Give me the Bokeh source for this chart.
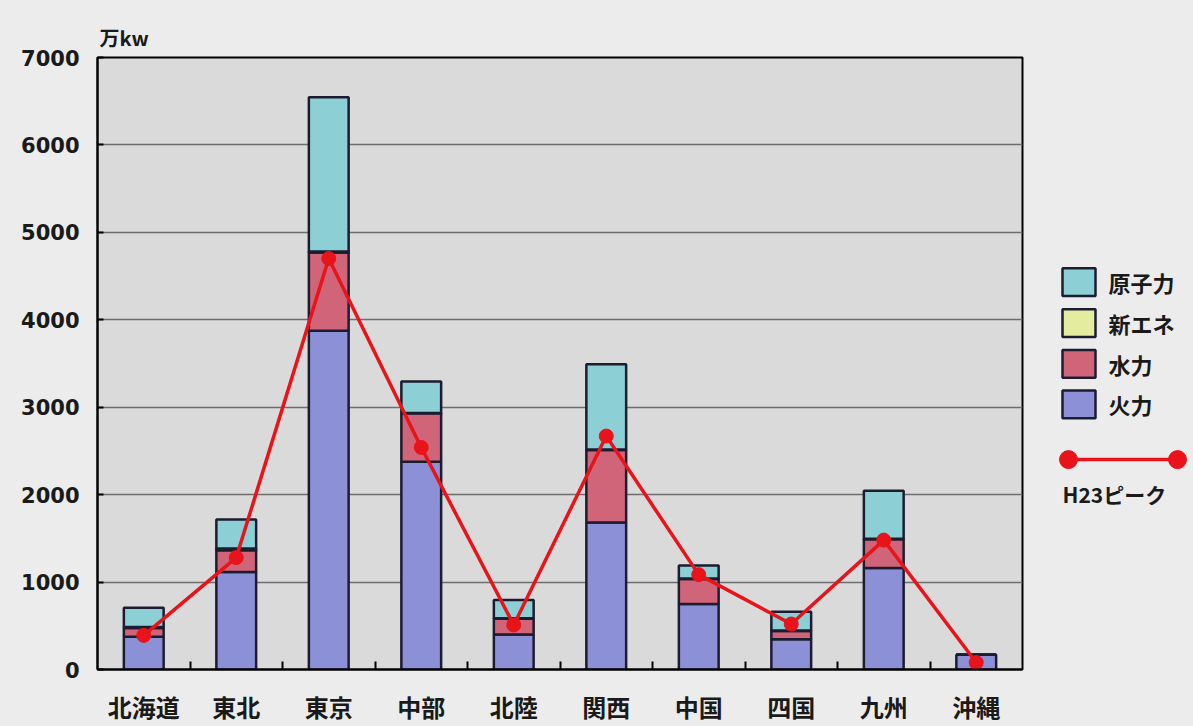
from bokeh.plotting import figure
from bokeh.layouts import row
from bokeh.models import ColumnDataSource, FixedTicker, Range1d
from bokeh.core.properties import value
from bokeh.embed import file_html
from bokeh.resources import INLINE

# ---- data (万kW) ----
categories = ["北海道", "東北", "東京", "中部", "北陸", "関西", "中国", "四国", "九州", "沖縄"]
fire = [375, 1115, 3875, 2375, 400, 1680, 750, 345, 1160, 170]      # 火力
hydro = [100, 250, 895, 555, 180, 830, 285, 95, 330, 0]              # 水力
new_energy = [10, 20, 10, 5, 5, 5, 5, 5, 5, 0]                        # 新エネ
nuclear = [220, 330, 1765, 360, 210, 975, 150, 215, 550, 0]          # 原子力
peak = [390, 1280, 4700, 2540, 510, 2670, 1085, 520, 1480, 80]      # H23ピーク
y_ticks = [0, 1000, 2000, 3000, 4000, 5000, 6000, 7000]
series_labels = ["原子力", "新エネ", "水力", "火力"]
line_label = "H23ピーク"
unit_label = "万kw"

# ---- styles ----
C_FIRE = "#8c90d6"
C_HYDRO = "#d0657a"
C_NEW = "#e4eca0"
C_NUC = "#8ccfd4"
C_EDGE = "#1c1c30"
C_RED = "#e8141a"
PAGE_BG = "#ececec"
PLOT_BG = "#dadada"
JP = "Noto Sans CJK JP"

xs = [i + 0.5 for i in range(len(categories))]
src = ColumnDataSource(dict(x=xs, fire=fire, hydro=hydro, new=new_energy,
                            nuclear=nuclear, peak=peak))

p = figure(width=1040, height=726, x_range=Range1d(0, len(categories)),
           y_range=Range1d(0, 7000), output_backend="svg", toolbar_location=None,
           min_border_left=97, min_border_right=18, min_border_top=57,
           min_border_bottom=53)
p.background_fill_color = PLOT_BG
p.border_fill_color = PAGE_BG
p.outline_line_color = "black"
p.outline_line_width = 2

p.vbar_stack(["fire", "hydro", "new", "nuclear"], x="x", width=0.43,
             color=[C_FIRE, C_HYDRO, C_NEW, C_NUC], line_color=C_EDGE,
             line_width=2.5, source=src)
p.line("x", "peak", source=src, line_color=C_RED, line_width=3.5)
p.scatter("x", "peak", source=src, size=14, fill_color=C_RED, line_color=C_RED)

# grids
p.xgrid.visible = False
p.ygrid.ticker = FixedTicker(ticks=y_ticks)
p.ygrid.grid_line_color = "#6e6e6e"
p.ygrid.grid_line_width = 1.5

# y axis
ya = p.yaxis[0]
ya.ticker = FixedTicker(ticks=y_ticks)
ya.major_tick_in = 6
ya.major_tick_out = 0
ya.minor_tick_line_color = None
ya.axis_line_color = "black"
ya.axis_line_width = 2
ya.major_tick_line_width = 2
ya.major_label_text_font = "DejaVu Sans"
ya.major_label_text_font_style = "bold"
ya.major_label_text_font_size = "21px"
ya.major_label_text_color = "#1a1a1a"
ya.major_label_standoff = 18

# x axis
xa = p.xaxis[0]
xa.ticker = FixedTicker(ticks=xs, minor_ticks=list(range(1, len(categories))))
xa.major_label_overrides = {x: c for x, c in zip(xs, categories)}
xa.major_tick_line_color = None
xa.minor_tick_in = 8
xa.minor_tick_out = 0
xa.minor_tick_line_color = "black"
xa.minor_tick_line_width = 2
xa.axis_line_color = "black"
xa.axis_line_width = 2
xa.major_label_text_font = JP
xa.major_label_text_font_style = "bold"
xa.major_label_text_font_size = "24px"
xa.major_label_text_color = "#1a1a1a"
xa.major_label_standoff = 13

# unit title
p.title.text = unit_label
p.title.align = "left"
p.title.text_font = JP
p.title.text_font_style = "bold"
p.title.text_font_size = "20px"
p.title.text_color = "#1a1a1a"
p.title.standoff = 12
p.title.offset = 2

# ---- legend panel ----
lg = figure(width=153, height=726, x_range=Range1d(0, 153), y_range=Range1d(726, 0),
            output_backend="svg", toolbar_location=None, min_border=0)
lg.axis.visible = False
lg.grid.visible = False
lg.outline_line_color = None
lg.background_fill_color = PAGE_BG
lg.border_fill_color = PAGE_BG

box_y = [266.5, 315, 363.5, 411.5]
lg.rect(x=[38.5] * 4, y=box_y, width=33, height=33,
        fill_color=[C_NUC, C_NEW, C_HYDRO, C_FIRE], line_color=C_EDGE, line_width=2.5)
lg.text(x=[68] * 4, y=box_y, text=series_labels, text_baseline="middle",
        text_align="left", text_font=value(JP), text_font_style="bold",
        text_font_size="22px", text_color="#1a1a1a")
lg.line(x=[28, 137], y=[477, 477], line_color=C_RED, line_width=3.5)
lg.scatter(x=[28, 137], y=[477, 477], size=18, fill_color=C_RED, line_color=C_RED)
lg.text(x=[22], y=[518], text=[line_label], text_baseline="middle", text_align="left",
        text_font=value(JP), text_font_style="bold", text_font_size="21px",
        text_color="#1a1a1a")

layout = row(p, lg, spacing=0)
layout.styles = {"background-color": PAGE_BG}

open("out.html", "w").write(file_html(layout, INLINE))
